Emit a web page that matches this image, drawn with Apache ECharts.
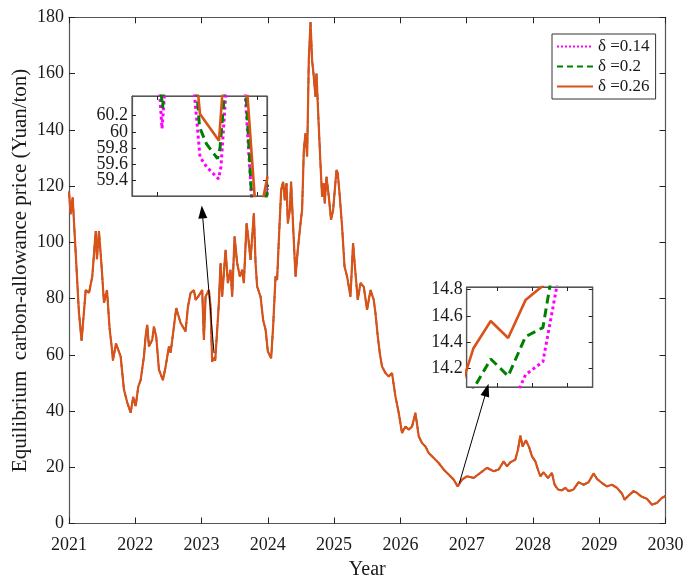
<!DOCTYPE html>
<html>
<head>
<meta charset="utf-8">
<script src="https://cdn.jsdelivr.net/npm/echarts@6/dist/echarts.min.js"></script>
<style>
  html, body { margin: 0; padding: 0; background: #ffffff; }
  #chart { width: 691px; height: 576px; }
</style>
</head>
<body>
<div id="chart"></div>
<script>
// Equilibrium carbon-allowance price path, 2021-2030 (Yuan/ton)
const years = [
  2021.000, 2021.025, 2021.055, 2021.150, 2021.190, 2021.252, 2021.302, 2021.351, 2021.403, 2021.422,
  2021.452, 2021.493, 2021.528, 2021.573, 2021.614, 2021.648, 2021.663, 2021.709, 2021.779, 2021.829,
  2021.879, 2021.930, 2021.969, 2022.006, 2022.045, 2022.081, 2022.131, 2022.156, 2022.180, 2022.206,
  2022.256, 2022.281, 2022.316, 2022.357, 2022.417, 2022.458, 2022.508, 2022.533, 2022.583, 2022.618,
  2022.684, 2022.759, 2022.794, 2022.835, 2022.885, 2022.910, 2022.949, 2023.010, 2023.035, 2023.061,
  2023.111, 2023.136, 2023.160, 2023.185, 2023.206, 2023.236, 2023.261, 2023.287, 2023.311, 2023.362,
  2023.397, 2023.438, 2023.462, 2023.498, 2023.537, 2023.578, 2023.613, 2023.638, 2023.679, 2023.703,
  2023.739, 2023.789, 2023.815, 2023.839, 2023.890, 2023.929, 2023.966, 2024.000, 2024.030, 2024.050,
  2024.080, 2024.116, 2024.140, 2024.166, 2024.201, 2024.231, 2024.256, 2024.282, 2024.302, 2024.332,
  2024.351, 2024.382, 2024.418, 2024.452, 2024.493, 2024.517, 2024.543, 2024.568, 2024.593, 2024.618,
  2024.644, 2024.668, 2024.694, 2024.719, 2024.734, 2024.769, 2024.794, 2024.819, 2024.844, 2024.859,
  2024.885, 2024.920, 2024.954, 2024.985, 2025.036, 2025.055, 2025.086, 2025.120, 2025.157, 2025.196,
  2025.247, 2025.286, 2025.322, 2025.357, 2025.398, 2025.447, 2025.497, 2025.549, 2025.598, 2025.624,
  2025.659, 2025.689, 2025.723, 2025.775, 2025.824, 2025.874, 2025.925, 2025.975, 2026.025, 2026.076,
  2026.126, 2026.176, 2026.227, 2026.277, 2026.326, 2026.378, 2026.427, 2026.503, 2026.578, 2026.653,
  2026.729, 2026.804, 2026.865, 2026.930, 2027.005, 2027.106, 2027.207, 2027.306, 2027.407, 2027.483,
  2027.558, 2027.608, 2027.659, 2027.734, 2027.774, 2027.810, 2027.844, 2027.894, 2027.946, 2027.985,
  2028.036, 2028.075, 2028.111, 2028.161, 2028.226, 2028.286, 2028.327, 2028.377, 2028.437, 2028.488,
  2028.538, 2028.613, 2028.689, 2028.764, 2028.840, 2028.915, 2028.965, 2029.040, 2029.115, 2029.191,
  2029.266, 2029.342, 2029.382, 2029.443, 2029.518, 2029.568, 2029.643, 2029.719, 2029.794, 2029.869,
  2029.945, 2030.000
];
const price = [
  118, 110, 116, 75, 65, 83, 82, 87.8, 104, 94,
  104, 91, 78.5, 83, 69, 62, 58, 64, 59.4, 47.6,
  43, 39.4, 45, 41.7, 48.7, 51, 59.4, 66.5, 70.6, 63,
  65.3, 70, 66.5, 54.7, 51, 55.8, 63, 60.7, 70, 76.6,
  71.3, 68.3, 77, 82, 83, 79.5, 80.7, 83, 65.3, 80.7,
  83, 77, 57.5, 59, 58, 68.9, 78.4, 92.6, 80.7, 97.3,
  85.5, 90.2, 80.7, 102, 92.6, 87.8, 90.2, 85.5, 106.7, 102,
  93.7, 110.3, 92.6, 84.2, 80.7, 72.4, 68.9, 61.2, 61.8, 58.8,
  70, 87.8, 86.6, 100.8, 118.6, 121.5, 115, 121, 106.7, 111.5,
  121.5, 105.6, 87.8, 97.3, 106.7, 111.5, 132.8, 138.7, 130.4, 164.7,
  178.3, 164.7, 158.8, 151.7, 160, 141, 128, 116.2, 121, 113.8,
  123.3, 116.2, 108, 111.5, 125.7, 124.5, 116.2, 105.6, 91.4, 87.8,
  80.7, 99.7, 89, 79.5, 85.5, 84.2, 76, 83, 79.5, 74.8,
  66.5, 60.6, 55.8, 53.5, 52.3, 53.5, 45.2, 39.3, 32.2, 34.5,
  33.4, 34.5, 39.3, 31, 28.6, 27.4, 25.1, 23.3, 21.5, 19.2,
  17.4, 15.6, 13.2, 15.6, 16.8, 16.2, 18, 19.8, 18.6, 19.2,
  22.1, 20.3, 21.8, 22.7, 26.3, 31.2, 27.4, 29.6, 26.9, 23.9,
  22.1, 19.2, 16.8, 18.2, 16.2, 18, 13.8, 12.1, 11.8, 12.7,
  11.5, 12.1, 14.7, 13.8, 14.7, 17.8, 15.9, 14.4, 13.2, 13.8,
  12.7, 10.7, 8.5, 9.9, 11.5, 10.9, 9.5, 8.8, 6.7, 7.3,
  9.1, 9.8
];

// Close-up of the early-2023 trough (trading days within the window)
const troughDays026 = [12.4, 13.6, 17.4, 18.7, 22.8, 25.0, 27.1];
const trough026     = [61.0, 60.22, 59.89, 61.0, 60.7, 58.8, 59.45];
const troughDays020 = [5.6, 6.1, 6.6, 12.6, 13.5, 14.9, 17.1, 17.6, 18.8, 22.7, 24.1, 26.4, 27.2];
const trough020     = [60.65, 60.29, 60.65, 60.8, 60.06, 59.85, 59.67, 59.8, 60.7, 60.6, 59.0, 59.0, 59.35];
const troughDays014 = [5.3, 6.0, 6.8, 12.0, 13.6, 14.9, 17.3, 17.8, 18.9, 22.5, 24.1, 26.4, 27.2];
const trough014     = [60.7, 60.04, 60.7, 60.8, 59.69, 59.57, 59.42, 59.57, 60.6, 60.6, 59.0, 59.0, 59.3];
const troughTicksY  = [59.4, 59.6, 59.8, 60, 60.2];
// labels are split over two overlaid axes so none get dropped for spacing
const troughLabelsA = [59.4, 59.8, 60.2];
const troughLabelsB = [59.6, 60];

// Close-up of the late-2026 low (consecutive observations)
const lowSteps = [0, 1, 2, 3, 4, 5, 6, 7];
const low026   = [13.93, 14.35, 14.56, 14.43, 14.72, 14.83, 15.2, 15.5];
const low020   = [13.8, 14.04, 14.27, 14.14, 14.44, 14.51, 15.3, 15.6];
const low014   = [13.6, 13.7, 13.8, 13.85, 14.15, 14.25, 14.97, 15.3];
const lowTicksY = [14.2, 14.4, 14.6, 14.8];

const seriesNames = ['\u03b4 =0.14', '\u03b4 =0.2', '\u03b4 =0.26'];

const FONT = 'Liberation Serif';
const COL = ['#ff00ff', '#008000', '#d95319'];
const AXIS = '#555555';
const TXT = '#1a1a1a';

const pairs = (xs, ys) => xs.map((x, i) => [x, ys[i]]);
const mainData = pairs(years, price);

const fmt = v => String(+(+v).toFixed(1));

function boxAxis(grid, pos, extra) {
  return Object.assign({
    gridIndex: grid, type: 'value', position: pos,
    axisLine: { show: true, onZero: false, lineStyle: { color: AXIS, width: 1.2 } },
    axisTick: { show: true, inside: true, length: 5, lineStyle: { color: '#222', width: 1 } },
    axisLabel: { show: false },
    splitLine: { show: false }
  }, extra);
}
function ticks(len, values) {
  const t = { show: true, inside: true, length: len, lineStyle: { color: '#222', width: 1 } };
  if (values) t.customValues = values;
  return t;
}

const labelStyle = { fontFamily: FONT, fontSize: 18, color: TXT, hideOverlap: false, showMinLabel: true, showMaxLabel: true };
const insetLabel = Object.assign({}, labelStyle, { lineHeight: 12 });

const gridBase = { outerBoundsMode: 'none', containLabel: false };

const option = {
  animation: false,
  backgroundColor: '#ffffff',
  legend: {
    orient: 'vertical',
    left: 552, top: 34,
    data: seriesNames,
    itemWidth: 36, itemHeight: 10, itemGap: 3,
    padding: [4, 6, 4, 4],
    borderColor: '#333', borderWidth: 1,
    backgroundColor: '#fff',
    itemStyle: { opacity: 0 },
    textStyle: { fontFamily: FONT, fontSize: 17, color: TXT }
  },
  grid: [
    Object.assign({ left: 69, top: 17.3, width: 596.5, height: 506.2, show: false }, gridBase),
    Object.assign({ left: 132, top: 96, width: 135, height: 100, show: true, backgroundColor: '#fff', borderColor: '#333', borderWidth: 1 }, gridBase),
    Object.assign({ left: 466.7, top: 287, width: 126, height: 100, show: true, backgroundColor: '#fff', borderColor: '#333', borderWidth: 1 }, gridBase)
  ],
  xAxis: [
    boxAxis(0, 'bottom', {
      min: 2021, max: 2030, interval: 1,
      axisTick: ticks(6),
      axisLabel: Object.assign({ show: true, margin: 13, formatter: v => String(v) }, labelStyle),
      name: 'Year', nameLocation: 'middle', nameGap: 34,
      nameTextStyle: { fontFamily: FONT, fontSize: 20, color: TXT }
    }),
    boxAxis(0, 'top', { min: 2021, max: 2030, interval: 1, axisTick: ticks(6) }),
    boxAxis(1, 'bottom', { min: 0, max: 27, axisTick: ticks(4, [5, 25]) }),
    boxAxis(1, 'top', { min: 0, max: 27, axisTick: ticks(4, [5, 25]) }),
    boxAxis(2, 'bottom', { min: 0.62, max: 7.86, axisTick: ticks(4, [2.4, 4.4, 6.4]) }),
    boxAxis(2, 'top', { min: 0.62, max: 7.86, axisTick: ticks(4, [2.4, 4.4, 6.4]) })
  ],
  yAxis: [
    boxAxis(0, 'left', {
      min: 0, max: 180, interval: 20,
      axisTick: ticks(6),
      axisLabel: Object.assign({ show: true, margin: 5 }, labelStyle),
      name: 'Equilibrium  carbon-allowance price (Yuan/ton)',
      nameLocation: 'middle', nameRotate: 90, nameGap: 38, nameMoveOverlap: false,
      nameTextStyle: { fontFamily: FONT, fontSize: 21, color: TXT }
    }),
    boxAxis(0, 'right', { min: 0, max: 180, interval: 20, axisTick: ticks(6) }),
    boxAxis(1, 'left', {
      min: 59.21, max: 60.44,
      axisTick: ticks(4, troughTicksY),
      axisLabel: Object.assign({ show: true, margin: 4, customValues: troughLabelsA, formatter: fmt }, insetLabel)
    }),
    boxAxis(1, 'right', { min: 59.21, max: 60.44, axisTick: ticks(4, troughTicksY) }),
    boxAxis(2, 'left', {
      min: 14.056, max: 14.82,
      axisTick: ticks(4, lowTicksY),
      axisLabel: Object.assign({ show: true, margin: 4, customValues: lowTicksY, formatter: fmt }, insetLabel)
    }),
    boxAxis(2, 'right', { min: 14.056, max: 14.82, axisTick: ticks(4, lowTicksY) }),
    boxAxis(1, 'left', {
      min: 59.21, max: 60.44,
      axisLine: { show: false }, axisTick: { show: false },
      axisLabel: Object.assign({ show: true, margin: 4, customValues: troughLabelsB, formatter: fmt }, insetLabel)
    })
  ],
  series: [
    // full path, three discount settings
    { name: seriesNames[0], type: 'line', xAxisIndex: 0, yAxisIndex: 0, data: mainData, symbol: 'none',
      lineStyle: { color: COL[0], width: 1.6, type: [2, 2] }, itemStyle: { color: COL[0] } },
    { name: seriesNames[1], type: 'line', xAxisIndex: 0, yAxisIndex: 0, data: mainData, symbol: 'none',
      lineStyle: { color: COL[1], width: 1.6, type: [6, 4] }, itemStyle: { color: COL[1] } },
    { name: seriesNames[2], type: 'line', xAxisIndex: 0, yAxisIndex: 0, data: mainData, symbol: 'none',
      lineStyle: { color: COL[2], width: 2.2 }, itemStyle: { color: COL[2] },
      markLine: {
        silent: true, symbol: ['none', 'triangle'], symbolSize: [9, 13],
        label: { show: false },
        lineStyle: { color: '#000', width: 1, type: 'solid' },
        itemStyle: { color: '#000' },
        emphasis: { disabled: true },
        data: [
          [{ coord: [2023.188, 60.6] }, { coord: [2023.011, 110.8] }],
          [{ coord: [2026.889, 14.3] }, { coord: [2027.302, 47.5] }]
        ]
      } },
    // trough close-up
    { name: seriesNames[0], type: 'line', xAxisIndex: 2, yAxisIndex: 2, data: pairs(troughDays014, trough014), symbol: 'none',
      lineStyle: { color: COL[0], width: 3, type: [3, 3] } },
    { name: seriesNames[1], type: 'line', xAxisIndex: 2, yAxisIndex: 2, data: pairs(troughDays020, trough020), symbol: 'none',
      lineStyle: { color: COL[1], width: 3, type: [9, 5] } },
    { name: seriesNames[2], type: 'line', xAxisIndex: 2, yAxisIndex: 2, data: pairs(troughDays026, trough026), symbol: 'none',
      lineStyle: { color: COL[2], width: 2.6 } },
    // low close-up
    { name: seriesNames[0], type: 'line', xAxisIndex: 4, yAxisIndex: 4, data: pairs(lowSteps, low014), symbol: 'none',
      lineStyle: { color: COL[0], width: 3, type: [3, 3] } },
    { name: seriesNames[1], type: 'line', xAxisIndex: 4, yAxisIndex: 4, data: pairs(lowSteps, low020), symbol: 'none',
      lineStyle: { color: COL[1], width: 3, type: [9, 5] } },
    { name: seriesNames[2], type: 'line', xAxisIndex: 4, yAxisIndex: 4, data: pairs(lowSteps, low026), symbol: 'none',
      lineStyle: { color: COL[2], width: 2.6 } }
  ]
};

const chart = echarts.init(document.getElementById('chart'), null, { renderer: 'canvas' });
chart.setOption(option);
</script>
</body>
</html>
